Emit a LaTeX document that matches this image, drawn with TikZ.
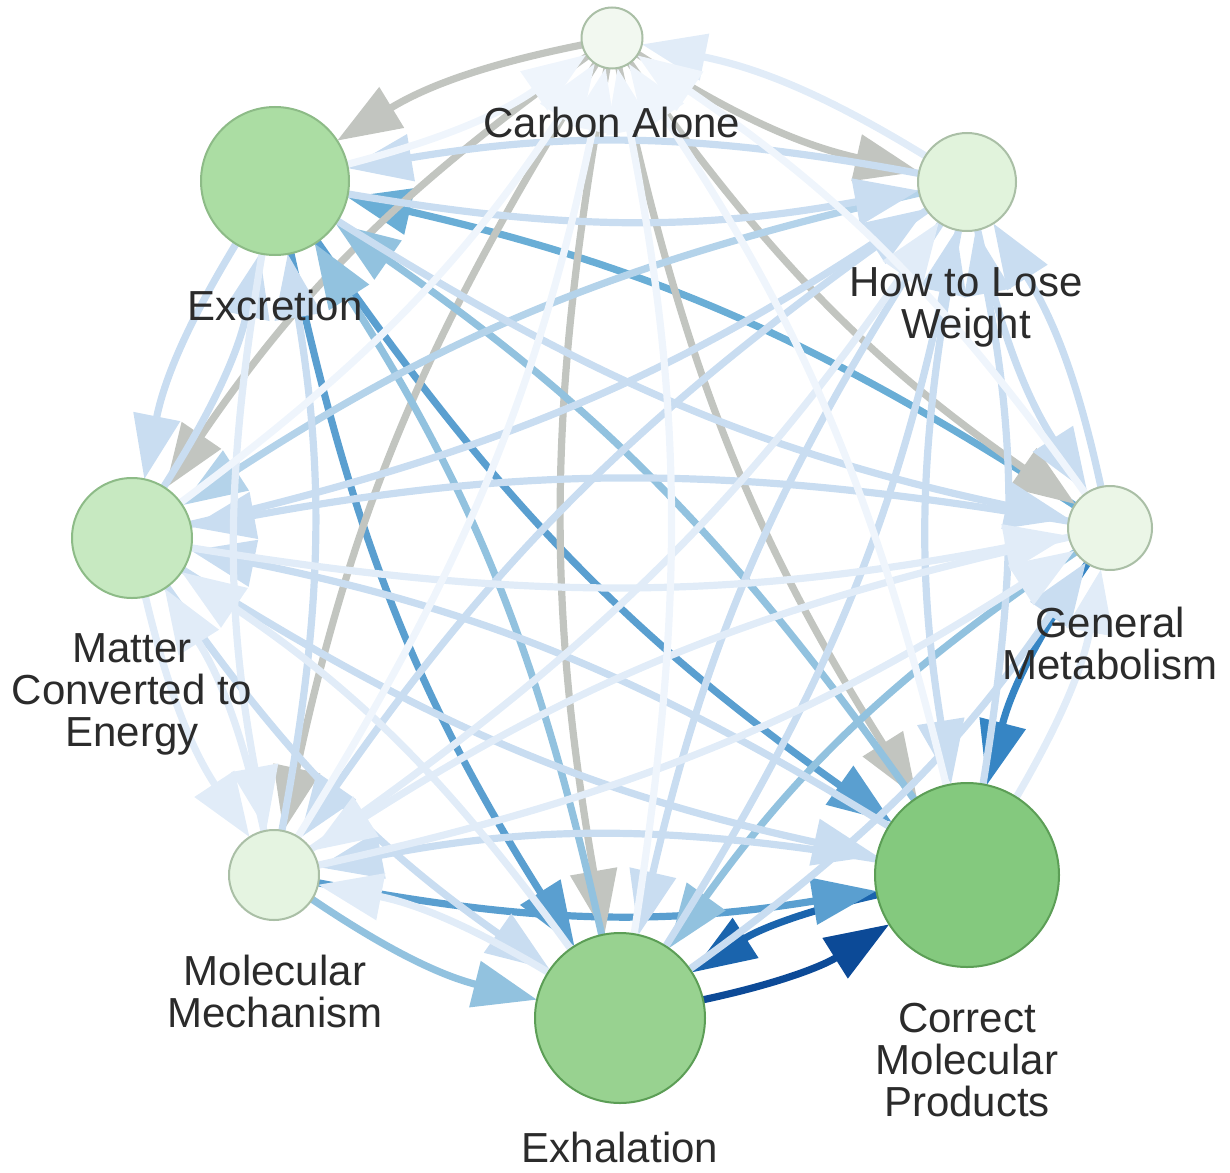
\documentclass[tikz,border=0pt]{standalone}
\usepackage{fontspec}
\setmainfont{Liberation Sans}
\usetikzlibrary{arrows.meta}
\pgfdeclarelayer{bg}
\pgfsetlayers{bg,main}
\definecolor{gry}{HTML}{C2C5C0}
\definecolor{b9}{HTML}{0C4A97}
\definecolor{b8}{HTML}{1A64AD}
\definecolor{b7}{HTML}{3685C4}
\definecolor{b6}{HTML}{5A9FD0}
\definecolor{b5}{HTML}{6AAED6}
\definecolor{b4}{HTML}{92C2DF}
\definecolor{b3}{HTML}{B4D3EA}
\definecolor{b2}{HTML}{C9DDF1}
\definecolor{b1}{HTML}{E1ECF8}
\definecolor{b0}{HTML}{EFF5FC}
\definecolor{txt}{HTML}{2B2B2B}
\definecolor{cC}{HTML}{F2F8F0}
\definecolor{cH}{HTML}{E1F3DC}
\definecolor{cG}{HTML}{EBF6E7}
\definecolor{cP}{HTML}{84C97E}
\definecolor{cX}{HTML}{98D290}
\definecolor{cM}{HTML}{E5F4E1}
\definecolor{cE}{HTML}{C7E9C1}
\definecolor{cR}{HTML}{ABDDA3}
\definecolor{bdL}{HTML}{AABFA6}
\definecolor{bdM}{HTML}{8DBB87}
\definecolor{bdD}{HTML}{5C9E56}
\begin{document}
\begin{tikzpicture}[x=0.5pt,y=-0.5pt,
  nd/.style={circle, draw, line width=1pt, inner sep=0pt, outer sep=0pt},
  lbl/.style={font=\fontsize{21}{21}\selectfont, text=txt, align=center, anchor=north, inner sep=0pt},
  ed/.style={line width=3.6pt, -{Triangle[length=32pt,width=23pt]}, bend right=10},
  e9/.style={ed, draw=b9}, e8/.style={ed, draw=b8}, e7/.style={ed, draw=b7},
  e6/.style={ed, draw=b6}, e5/.style={ed, draw=b5}, e4/.style={ed, draw=b4},
  e3/.style={ed, draw=b3}, e2/.style={ed, draw=b2}, e1/.style={ed, draw=b1},
  e0/.style={ed, draw=b0}, eg/.style={ed, draw=gry}]
\useasboundingbox (0,0) rectangle (1230,1172);
% nodes
\node[nd, fill=cC, draw=bdL, minimum size=30.5pt] (C) at (612,38) {};
\node[nd, fill=cH, draw=bdL, minimum size=49pt] (H) at (967,182) {};
\node[nd, fill=cG, draw=bdL, minimum size=42pt] (G) at (1110,528) {};
\node[nd, fill=cP, draw=bdD, minimum size=92pt] (P) at (967,875) {};
\node[nd, fill=cX, draw=bdD, minimum size=85pt] (X) at (620,1018) {};
\node[nd, fill=cM, draw=bdL, minimum size=45pt] (M) at (274,875) {};
\node[nd, fill=cE, draw=bdM, minimum size=60pt] (E) at (132,538) {};
\node[nd, fill=cR, draw=bdM, minimum size=74pt] (R) at (275,181) {};
% edges
\begin{pgfonlayer}{bg}
\draw[e9] (X) to (P);
\draw[e8] (P) to (X);
\draw[e7] (G) to (P);
\draw[e6] (R) to (X);
\draw[e6] (R) to (P);
\draw[e6] (M) to (P);
\draw[e5] (G) to (R);
\draw[eg] (C) to (H);
\draw[eg] (C) to (G);
\draw[eg] (C) to (P);
\draw[eg] (C) to (X);
\draw[eg] (C) to (M);
\draw[eg] (C) to (E);
\draw[eg] (C) to (R);
\draw[e4] (P) to (R);
\draw[e4] (X) to (R);
\draw[e4] (G) to (X);
\draw[e4] (M) to (X);
\draw[e3] (H) to (E);
\draw[e2] (H) to (R);
\draw[e2] (H) to (M);
\draw[e2] (H) to (X);
\draw[e2] (H) to (P);
\draw[e2] (H) to (G);
\draw[e2] (G) to (H);
\draw[e2] (G) to (E);
\draw[e2] (P) to (H);
\draw[e2] (P) to (E);
\draw[e2] (P) to (M);
\draw[e2] (X) to (H);
\draw[e2] (X) to (G);
\draw[e2] (M) to (R);
\draw[e2] (E) to (H);
\draw[e2] (E) to (R);
\draw[e2] (E) to (X);
\draw[e2] (E) to (P);
\draw[e2] (R) to (H);
\draw[e2] (R) to (G);
\draw[e2] (R) to (E);
\draw[e1] (R) to (M);
\draw[e1] (H) to (C);
\draw[e1] (G) to (M);
\draw[e1] (P) to (G);
\draw[e1] (X) to (E);
\draw[e1] (X) to (M);
\draw[e1] (M) to (H);
\draw[e1] (M) to (G);
\draw[e1] (M) to (E);
\draw[e1] (E) to (G);
\draw[e1] (E) to (M);
\draw[e0] (G) to (C);
\draw[e0] (P) to (C);
\draw[e0] (X) to (C);
\draw[e0] (M) to (C);
\draw[e0] (E) to (C);
\draw[e0] (R) to (C);
\end{pgfonlayer}
% labels
\node[lbl] (lC) at (612,107) {Carbon Alone};
\node[lbl] (lH) at (966,267) {How to Lose\\Weight};
\node[lbl] (lG) at (1110,607) {General\\Metabolism};
\node[lbl] (lP) at (967,1003) {Correct\\Molecular\\Products};
\node[lbl] (lX) at (620,1132) {Exhalation};
\node[lbl] (lM) at (275,955) {Molecular\\Mechanism};
\node[lbl] (lE) at (132,633) {Matter\\Converted to\\Energy};
\node[lbl] (lR) at (275,290) {Excretion};
\end{tikzpicture}
\end{document}
